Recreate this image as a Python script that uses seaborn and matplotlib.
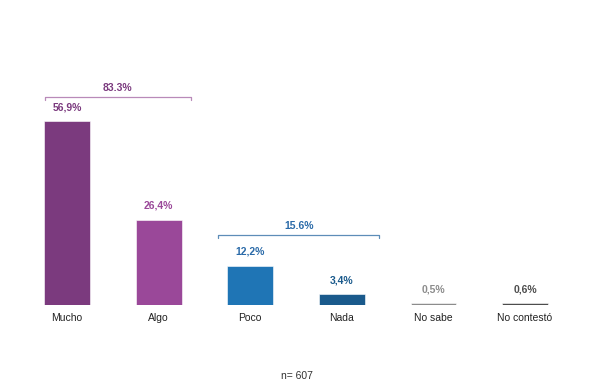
import matplotlib
matplotlib.use("Agg")
import matplotlib.pyplot as plt
import seaborn as sns
import pandas as pd

categories = ["Mucho", "Algo", "Poco", "Nada", "No sabe", "No contestó"]
values = [56.9, 26.4, 12.2, 3.4, 0.5, 0.6]
value_labels = ["56,9%", "26,4%", "12,2%", "3,4%", "0,5%", "0,6%"]
bar_colors = ["#7b3a7e", "#9a4899", "#1f75b5", "#1a5a8c", "#8c8c8c", "#4d4d4d"]
label_colors = ["#7b3a7e", "#9a4899", "#2a6aa8", "#1a5a8c", "#8c8c8c", "#4d4d4d"]
group_labels = ["83.3%", "15.6%"]
group_colors = ["#7b3a7e", "#2a6aa8"]
bracket_colors = ["#b98ab9", "#5d8db8"]
n_text = "n= 607"

sns.set_theme(style="white")
plt.rcParams["font.family"] = ["Liberation Sans", "DejaVu Sans"]

df = pd.DataFrame({"cat": categories, "val": values})

fig = plt.figure(figsize=(6, 3.89), dpi=100)
ax = fig.add_axes([21.2 / 600, 84 / 389, 549.6 / 600, 226 / 389])
sns.barplot(data=df, x="cat", y="val", hue="cat", palette=bar_colors,
            legend=False, width=0.5, ax=ax, saturation=1,
            edgecolor="white", linewidth=0.4)
ax.set_xlim(-0.5, 5.5)
ax.set_ylim(0, 70)
ax.set_xlabel("")
ax.set_ylabel("")
ax.set_yticks([])
for s in ax.spines.values():
    s.set_visible(False)
ax.tick_params(axis="x", length=0, pad=6, labelsize=7.5, colors="#222222")

for i, (v, lab, c) in enumerate(zip(values, value_labels, label_colors)):
    ax.annotate(lab, (i, v), xytext=(0, 10), textcoords="offset points",
                ha="center", va="center", fontsize=7.5, fontweight="bold", color=c)

# group brackets
brackets = [(-0.24, 1.35, 64.4), (1.65, 3.41, 21.7)]
for (x0, x1, y), lab, tc, bc in zip(brackets, group_labels, group_colors, bracket_colors):
    ax.plot([x0, x0, x1, x1], [y - 1.0, y, y, y - 1.0], color=bc, lw=0.9,
            clip_on=False)
    ax.text((x0 + x1) / 2, y + 2.8, lab, ha="center", va="center",
            fontsize=7.5, fontweight="bold", color=tc)

fig.text(297 / 600, 1 - 376 / 389, n_text, ha="center", va="center",
         fontsize=7.5, color="#333333")

fig.savefig("out.png", dpi=100, facecolor="white")
